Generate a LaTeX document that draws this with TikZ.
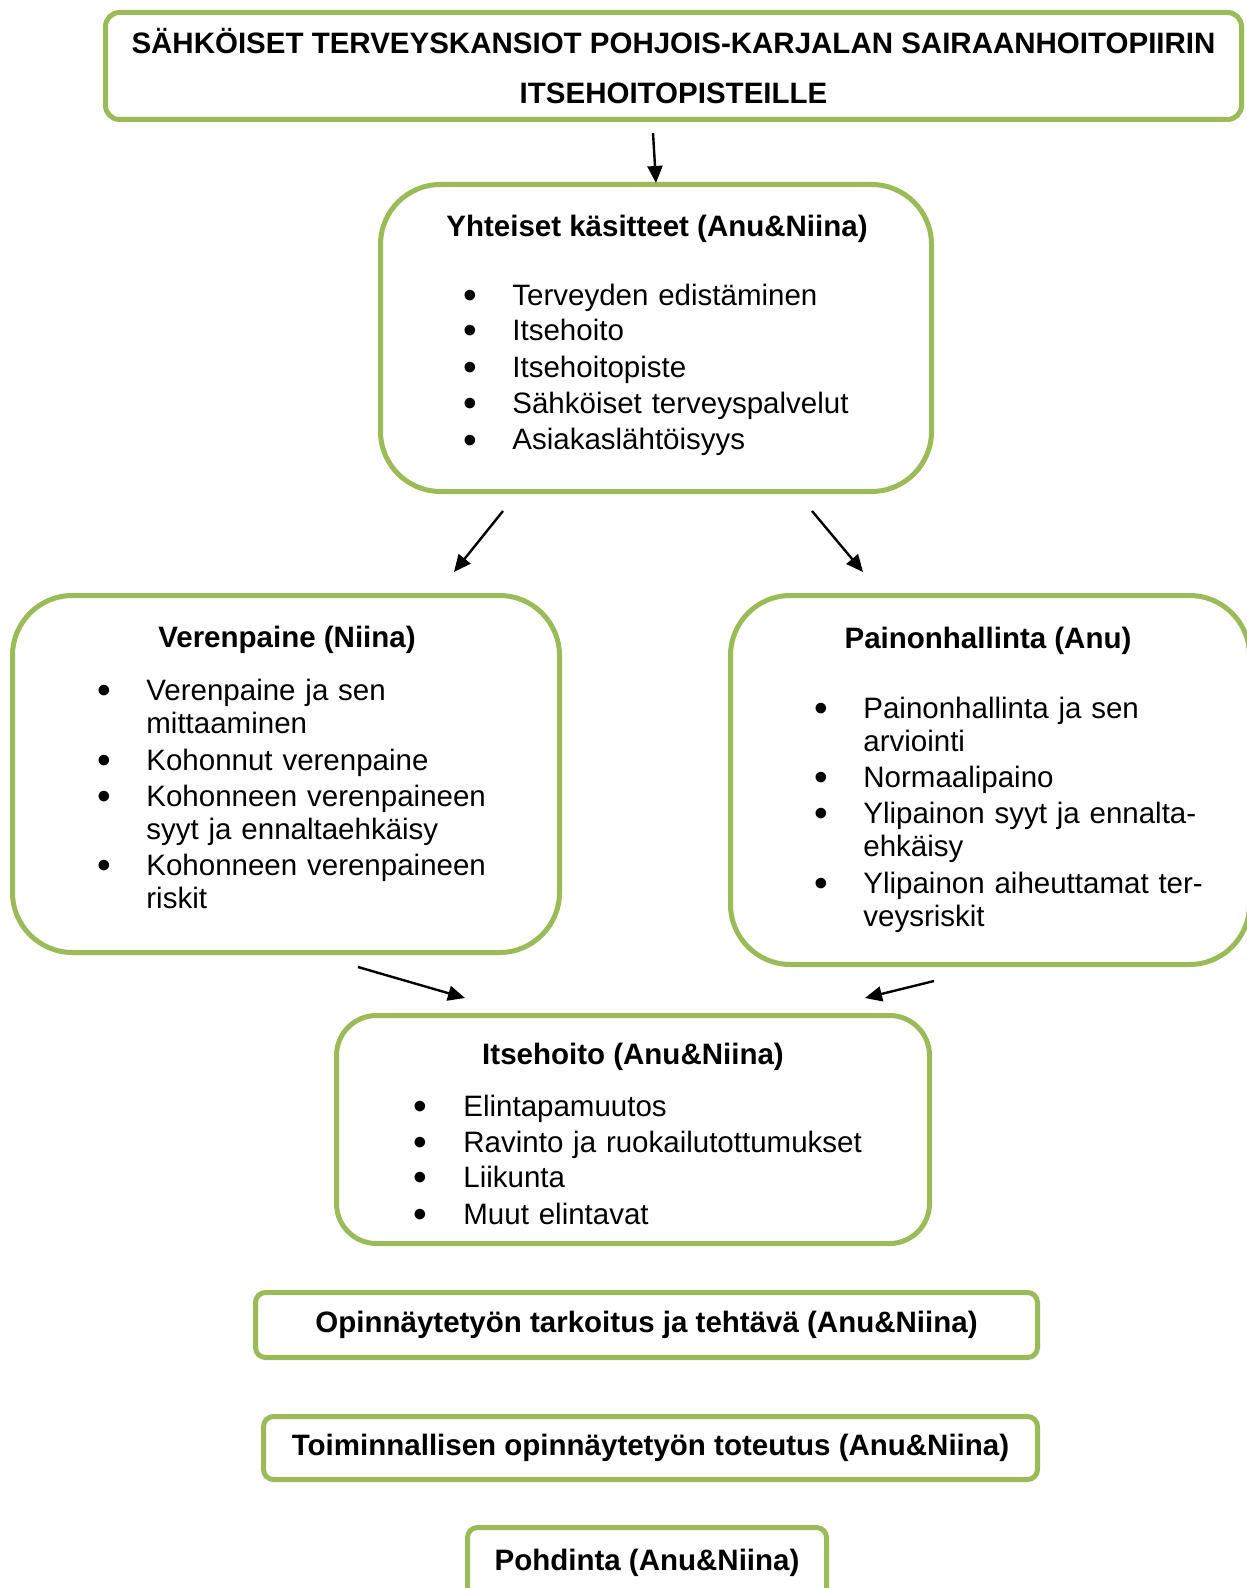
\documentclass[tikz,border=0pt]{standalone}
\usepackage{fontspec}
\setmainfont{Liberation Sans}
\usetikzlibrary{arrows.meta}
\definecolor{olivegreen}{RGB}{155,187,89}
\begin{document}
\begin{tikzpicture}[x=0.5pt,y=-0.5pt,
  box/.style={draw=olivegreen, line width=2.5pt, rectangle, rounded corners=#1, inner sep=0pt, fill=white},
  boxtext/.style={font=\bfseries\fontsize{14.75}{25}\selectfont, align=center},
  ttl/.style={font=\bfseries\fontsize{14.75}{17}\selectfont, anchor=base, inner sep=0pt},
  itm/.style={font=\fontsize{14.75}{16.75}\selectfont, anchor=base west, inner sep=0pt, text width=230pt, align=left},
  bul/.style={font=\fontsize{19.5}{20}\selectfont, anchor=base, inner sep=0pt, yshift=-1.5pt, text height=8pt, text depth=0pt},
  arr/.style={-{Triangle[length=8.5pt,width=7.5pt]}, line width=1.2pt, black}]
\useasboundingbox (0,0) rectangle (1246,1588);

% boxes
\node[box=7pt, boxtext, minimum width=568pt, minimum height=53.5pt] (main) at (673.5,66)
  {SÄHKÖISET TERVEYSKANSIOT POHJOIS-KARJALAN SAIRAANHOITOPIIRIN\\ITSEHOITOPISTEILLE};
\node[box=30pt, minimum width=275.5pt, minimum height=153.5pt] (yht) at (656,338) {};
\node[box=30pt, minimum width=273.5pt, minimum height=178.5pt] (ver) at (286,774) {};
\node[box=30pt, minimum width=259.5pt, minimum height=184.5pt] (pai) at (990,780) {};
\node[box=20pt, minimum width=296.5pt, minimum height=114pt] (its) at (633,1129.5) {};
\node[box=5pt, boxtext, minimum width=391pt, minimum height=32.5pt] (opi) at (646.5,1325)
  {Opinnäytetyön tarkoitus ja tehtävä (Anu\&Niina)};
\node[box=5pt, boxtext, minimum width=387pt, minimum height=31.5pt] (toi) at (650.5,1448)
  {Toiminnallisen opinnäytetyön toteutus (Anu\&Niina)};
\node[box=5pt, boxtext, minimum width=179.5pt, minimum height=35pt] (poh) at (647,1562.5)
  {Pohdinta (Anu\&Niina)};

% Yhteiset käsitteet
\node[ttl] (yhtT) at (657,237) {Yhteiset käsitteet (Anu\&Niina)};
\foreach \y/\t [count=\i] in {306/Terveyden edistäminen, 341/Itsehoito, 378/Itsehoitopiste, 414/Sähköiset terveyspalvelut, 450/Asiakaslähtöisyys}{
  \node[bul] (yhtB\i) at (470,\y) {•};
  \node[itm] (yhtI\i) at (512,\y) {\t};
}

% Verenpaine
\node[ttl] (verT) at (287,647) {Verenpaine (Niina)};
\node[bul] (verB1) at (104,700) {•};
\node[itm] (verI1) at (146,700) {Verenpaine ja sen\\mittaaminen};
\node[bul] (verB2) at (104,770) {•};
\node[itm] (verI2) at (146,770) {Kohonnut verenpaine};
\node[bul] (verB3) at (104,806) {•};
\node[itm] (verI3) at (146,806) {Kohonneen verenpaineen\\syyt ja ennaltaehkäisy};
\node[bul] (verB4) at (104,875) {•};
\node[itm] (verI4) at (146,875) {Kohonneen verenpaineen\\riskit};

% Painonhallinta
\node[ttl] (paiT) at (988,648) {Painonhallinta (Anu)};
\node[bul] (paiB1) at (821,718) {•};
\node[itm] (paiI1) at (863,718) {Painonhallinta ja sen\\arviointi};
\node[bul] (paiB2) at (821,787) {•};
\node[itm] (paiI2) at (863,787) {Normaalipaino};
\node[bul] (paiB3) at (821,823) {•};
\node[itm] (paiI3) at (863,823) {Ylipainon syyt ja ennalta-\\ehkäisy};
\node[bul] (paiB4) at (821,893) {•};
\node[itm] (paiI4) at (863,893) {Ylipainon aiheuttamat ter-\\veysriskit};

% Itsehoito
\node[ttl] (itsT) at (633,1064) {Itsehoito (Anu\&Niina)};
\foreach \y/\t [count=\i] in {1116/Elintapamuutos, 1152/Ravinto ja ruokailutottumukset, 1187/Liikunta, 1224/Muut elintavat}{
  \node[bul] (itsB\i) at (420,\y) {•};
  \node[itm] (itsI\i) at (463,\y) {\t};
}

% connectors
\coordinate (a1s) at (653,133);  \coordinate (a1e) at (656,183);
\coordinate (a2s) at (503,511);  \coordinate (a2e) at (454,572);
\coordinate (a3s) at (812,511);  \coordinate (a3e) at (863,572);
\coordinate (a4s) at (358,967);  \coordinate (a4e) at (465,998);
\coordinate (a5s) at (934,981);  \coordinate (a5e) at (865,998);
\draw[arr] (a1s) -- (a1e);
\draw[arr] (a2s) -- (a2e);
\draw[arr] (a3s) -- (a3e);
\draw[arr] (a4s) -- (a4e);
\draw[arr] (a5s) -- (a5e);
\end{tikzpicture}
\end{document}
